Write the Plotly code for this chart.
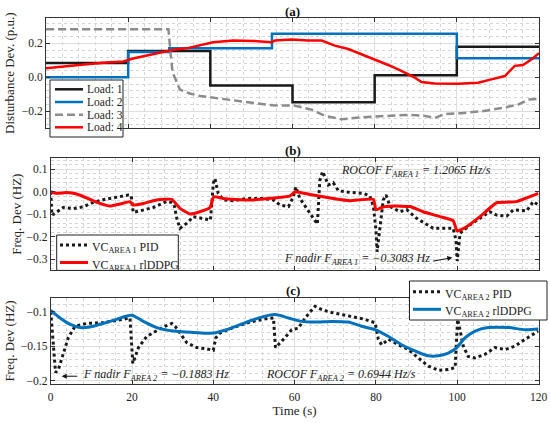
import plotly.graph_objects as go

# ---- panel (a): disturbances
load1_t = [0, 20, 40, 60, 80, 100, 120]
load1_v = [0.085, 0.155, -0.048, -0.147, 0.012, 0.18, 0.18]
load2_t = [0, 20, 30, 55, 100, 120]
load2_v = [0.0, 0.15, 0.172, 0.257, 0.113, 0.113]
load3_t = [0, 29.8, 30.3, 30.8, 31.5, 32.6, 35, 37.5, 42.3, 47.2, 52, 55.3,
           60.6, 64.6, 67.9, 71.9, 76.8, 81.7, 88.2, 92.2, 94.6, 97.1, 101.1,
           106, 110.9, 114.9, 117.4, 120]
load3_v = [0.284, 0.284, 0.15, 0.03, -0.01, -0.072, -0.095, -0.11, -0.125,
           -0.14, -0.157, -0.165, -0.167, -0.19, -0.227, -0.247, -0.235,
           -0.23, -0.221, -0.227, -0.24, -0.216, -0.211, -0.2, -0.181, -0.161,
           -0.131, -0.127]
load4_t = [0, 5, 9.9, 14.8, 18.8, 21.2, 24.5, 27.7, 31, 34.2, 37.5, 40.7,
           45.6, 50.4, 54.9, 55.7, 59.8, 63.8, 67.1, 70.3, 73.6, 76.8, 80,
           83.3, 86.5, 89.8, 91.4, 94.6, 100.3, 105.2, 108.4, 111.7, 114.1,
           116.1, 118.2, 120]
load4_v = [0.054, 0.068, 0.078, 0.088, 0.094, 0.111, 0.127, 0.143, 0.163,
           0.171, 0.187, 0.207, 0.217, 0.215, 0.207, 0.217, 0.223, 0.217,
           0.217, 0.187, 0.167, 0.137, 0.107, 0.073, 0.038, -0.002, -0.028,
           -0.036, -0.038, -0.032, -0.012, 0.008, 0.068, 0.073, 0.107, 0.143]

# ---- panel (b): area 1 frequency deviation
pid1_t = [0, 0.3, 1.1, 3.1, 5.6, 8.0, 10.5, 13.8, 17.0, 19.1, 19.8, 20.3,
          22.0, 25.2, 28.5, 29.8, 30.4, 31.0, 31.8, 33.5, 35.1, 37.5, 39.3,
          40.0, 40.4, 41.2, 42.5, 44.9, 48.2, 52.3, 54.8, 56.4, 58.5, 59.7,
          60.3, 61.3, 63.0, 64.6, 65.6, 66.2, 66.9, 68.3, 69.5, 70.8, 73.6,
          76.9, 78.5, 79.4, 80.0, 80.3, 81.0, 81.8, 82.5, 83.5, 85.9, 87.6,
          90.0, 94.1, 99.0, 99.7, 100.0, 100.7, 103.1, 105.5, 108.0, 109.7,
          112.2, 113.8, 117.1, 118.7, 120]
pid1_v = [0.0, -0.105, -0.095, -0.07, -0.075, -0.067, -0.047, -0.032,
          -0.022, -0.015, -0.018, -0.092, -0.085, -0.07, -0.044, -0.048,
          -0.06, -0.118, -0.163, -0.14, -0.111, -0.12, -0.126, 0.037, 0.059,
          -0.007, -0.037, -0.04, -0.03, -0.03, -0.037, -0.059, -0.066, -0.022,
          0.022, -0.03, -0.074, -0.118, -0.144, 0.05, 0.09, 0.03, 0.04, 0.004,
          -0.003, -0.007, -0.018, -0.066, -0.17, -0.267, -0.16, -0.037,
          -0.015, -0.066, -0.089, -0.08, -0.118, -0.163, -0.163, -0.215,
          -0.3083, -0.185, -0.148, -0.118, -0.089, -0.104, -0.108, -0.081,
          -0.085, -0.044, -0.059]
ddpg1_t = [0, 1.5, 3.9, 6.4, 9.7, 12.1, 14.6, 17.0, 19.5, 20.3, 22.8, 26.1,
           29.8, 31.8, 34.3, 36.7, 39.2, 40.1, 42.5, 49.0, 58.9, 60.1, 63.8,
           69.5, 73.6, 79.4, 80.0, 81.4, 84.3, 88.4, 91.6, 95.8, 99.0, 100.0,
           102.3, 105.6, 109.7, 114.6, 117.1, 120]
ddpg1_v = [0.0, -0.007, -0.004, -0.01, -0.034, -0.052, -0.064, -0.055,
           -0.044, -0.059, -0.052, -0.037, -0.034, -0.074, -0.099, -0.089,
           -0.07, -0.022, -0.03, -0.037, -0.018, 0.0, -0.012, -0.03, -0.04,
           -0.034, -0.081, -0.07, -0.064, -0.066, -0.089, -0.111, -0.129,
           -0.175, -0.156, -0.111, -0.049, -0.044, -0.027, -0.007]

# ---- panel (c): area 2 frequency deviation
pid2_t = [0, 1.2, 1.9, 3.1, 4.3, 6.0, 8.9, 12.9, 17.0, 19.5, 20.2, 21.6,
          23.6, 26.1, 27.7, 29.8, 30.6, 33.5, 35.9, 38.4, 40.0, 40.6, 41.6,
          44.9, 49.0, 53.1, 54.8, 55.3, 56.8, 59.3, 60.9, 62.6, 65.0, 66.7,
          69.1, 73.2, 77.3, 79.8, 80.6, 81.4, 83.1, 85.5, 88.0, 90.4, 92.9,
          95.4, 97.8, 99.5, 100.1, 100.4, 101.5, 102.7, 104.4, 106.8, 109.3,
          111.8, 114.2, 116.7, 119.2, 120]
pid2_v = [-0.1, -0.1883, -0.184, -0.16, -0.138, -0.121, -0.117, -0.116,
          -0.112, -0.109, -0.175, -0.152, -0.136, -0.128, -0.122, -0.117,
          -0.121, -0.145, -0.152, -0.154, -0.156, -0.138, -0.131, -0.123,
          -0.115, -0.11, -0.109, -0.152, -0.143, -0.126, -0.124, -0.109,
          -0.092, -0.097, -0.101, -0.106, -0.111, -0.116, -0.14, -0.148,
          -0.14, -0.148, -0.155, -0.167, -0.179, -0.185, -0.184, -0.181,
          -0.111, -0.118, -0.15, -0.165, -0.167, -0.162, -0.152, -0.155,
          -0.15, -0.14, -0.131, -0.128]
ddpg2_t = [0, 2.3, 4.7, 7.2, 9.7, 12.9, 16.2, 19.9, 22.8, 26.1, 30.2, 35.1,
           40.0, 43.3, 48.2, 52.3, 55.2, 58.5, 61.7, 65.0, 69.1, 73.2, 76.5,
           79.8, 83.1, 86.3, 89.6, 92.9, 95.4, 97.8, 99.9, 101.9, 104.4,
           107.6, 112.6, 116.7, 120]
ddpg2_v = [-0.098, -0.109, -0.118, -0.123, -0.122, -0.117, -0.111, -0.105,
           -0.114, -0.123, -0.128, -0.13, -0.131, -0.126, -0.115, -0.107,
           -0.104, -0.109, -0.114, -0.115, -0.114, -0.115, -0.121, -0.126,
           -0.136, -0.148, -0.157, -0.164, -0.164, -0.16, -0.152, -0.138,
           -0.128, -0.123, -0.123, -0.126, -0.125]

x_ticks = [0, 20, 40, 60, 80, 100, 120]

W, H = 550, 423
SERIF = "Liberation Serif, Times New Roman, serif"
BLACK = "#1a1a1a"
BLUE = "#0072BD"
RED = "#FF0000"
GRAY = "#8c8c8c"
TXT = "#222222"

styles = {
    "k": dict(color=BLACK, width=2.5),
    "b": dict(color=BLUE, width=2.5),
    "g": dict(color=GRAY, width=2.5, dash="8px,4px"),
    "r": dict(color=RED, width=2.5),
    "kd": dict(color=BLACK, width=3, dash="dot"),
    "r3": dict(color=RED, width=3),
    "b3": dict(color=BLUE, width=3),
}


def px(x):
    return x / W


def py(y):
    return 1 - y / H


fig = go.Figure()

# panel (a)
fig.add_trace(go.Scatter(x=load1_t, y=load1_v, mode="lines", line_shape="hv",
                         line=styles["k"], xaxis="x", yaxis="y"))
fig.add_trace(go.Scatter(x=load2_t, y=load2_v, mode="lines", line_shape="hv",
                         line=styles["b"], xaxis="x", yaxis="y"))
fig.add_trace(go.Scatter(x=load3_t, y=load3_v, mode="lines",
                         line=styles["g"], xaxis="x", yaxis="y"))
fig.add_trace(go.Scatter(x=load4_t, y=load4_v, mode="lines",
                         line=styles["r"], xaxis="x", yaxis="y"))

# panel (b)
fig.add_trace(go.Scatter(x=pid1_t, y=pid1_v, mode="lines",
                         line=styles["kd"], xaxis="x2", yaxis="y2"))
fig.add_trace(go.Scatter(x=ddpg1_t, y=ddpg1_v, mode="lines",
                         line=dict(styles["r3"], shape="spline", smoothing=0.4),
                         xaxis="x2", yaxis="y2"))

# panel (c)
fig.add_trace(go.Scatter(x=pid2_t, y=pid2_v, mode="lines",
                         line=styles["kd"], xaxis="x3", yaxis="y3"))
fig.add_trace(go.Scatter(x=ddpg2_t, y=ddpg2_v, mode="lines",
                         line=dict(styles["b3"], shape="spline", smoothing=0.8),
                         xaxis="x3", yaxis="y3"))


def xax(domain, labels, anchor):
    return dict(domain=domain, range=[0, 120], tickvals=x_ticks,
                showticklabels=labels, ticks="inside", ticklen=4,
                tickcolor="#333", mirror="ticks", showline=True,
                linecolor="#333", linewidth=1, anchor=anchor, automargin=False,
                ticklabeloverflow="allow", ticklabelstandoff=2,
                showgrid=True, gridcolor="#dedede", gridwidth=0.8,
                minor=dict(dtick=4, showgrid=True, gridcolor="#d6d6d6",
                           griddash="dot", gridwidth=0.6, ticks=""),
                zeroline=False, tickfont=dict(family=SERIF, size=11.5, color=TXT))


def yax(domain, rng, dtick, minor, title, anchor, fmt, standoff):
    return dict(domain=domain, range=rng, dtick=dtick, tick0=0,
                ticks="inside", ticklen=4, tickcolor="#333", mirror="ticks",
                showline=True, linecolor="#333", linewidth=1, anchor=anchor,
                automargin=False, ticklabeloverflow="allow",
                showgrid=True, gridcolor="#dedede", gridwidth=0.8,
                minor=dict(dtick=minor, showgrid=True, gridcolor="#d6d6d6",
                           griddash="dot", gridwidth=0.6, ticks=""),
                zeroline=False, tickformat=fmt,
                tickfont=dict(family=SERIF, size=11.5, color=TXT),
                title=dict(text=title, standoff=standoff,
                           font=dict(family=SERIF, size=13, color=TXT)))


xd = [px(50.7), px(538.5)]
fig.update_layout(
    width=W, height=H,
    margin=dict(l=0, r=0, t=0, b=0, autoexpand=False),
    paper_bgcolor="white", plot_bgcolor="white",
    font=dict(family=SERIF, size=12, color=TXT),
    showlegend=False,
    xaxis=xax([px(46), px(539)], False, "y"),
    yaxis=yax([py(128.25), py(18)], [-0.3, 0.35], 0.2, 0.04,
              "Disturbance Dev. (p.u.)", "x", ".1f", 4),
    xaxis2=xax(xd, False, "y2"),
    yaxis2=yax([py(270.4), py(158)], [-0.35, 0.15], 0.1, 0.02,
               "Freq. Dev (HZ)", "x2", ".1f", 1),
    xaxis3=dict(xax(xd, True, "y3"),
                title=dict(text="Time (s)", standoff=2,
                           font=dict(family=SERIF, size=13, color=TXT))),
    yaxis3=yax([py(384), py(298)], [-0.205, -0.08], 0.05, 0.01,
               "Freq. Dev (HZ)", "x3", ".2~f", 3),
)

# panel titles
for txt, yy in [("<b>(a)</b>", 11.5), ("<b>(b)</b>", 150), ("<b>(c)</b>", 290)]:
    fig.add_annotation(text=txt, xref="paper", yref="paper", x=px(292.5),
                       y=py(yy), yanchor="middle", showarrow=False,
                       borderpad=0,
                       font=dict(family=SERIF, size=13, color="#111"))


# compact MATLAB-like legends
def legend_box(x0, y0, x1, y1, entries, lx0, lx1, tx, size, ty_off=0):
    fig.add_shape(type="rect", xref="paper", yref="paper",
                  x0=px(x0), x1=px(x1), y0=py(y1), y1=py(y0),
                  line=dict(color="#222", width=1), fillcolor="white",
                  layer="above")
    for label, sty, yy in entries:
        fig.add_shape(type="line", xref="paper", yref="paper",
                      x0=px(lx0), x1=px(lx1), y0=py(yy), y1=py(yy),
                      line=styles[sty], layer="above")
        fig.add_annotation(text=label, xref="paper", yref="paper",
                           x=px(tx), y=py(yy + ty_off), xanchor="left",
                           yanchor="middle", showarrow=False,
                           font=dict(family=SERIF, size=size, color=TXT))


legend_box(50, 80, 123, 137,
           [("Load: 1", "k", 89.3), ("Load: 2", "b", 102),
            ("Load: 3", "g", 114.7), ("Load: 4", "r", 127.3)],
           55, 83, 85, 11.5)
legend_box(56.7, 235, 178.3, 270.4,
           [("VC<sub>AREA 1</sub> PID", "kd", 245),
            ("VC<sub>AREA 1</sub> rlDDPG", "r3", 262.5)],
           60, 88, 89.5, 11.8, ty_off=2.5)
legend_box(409.5, 281, 547, 320,
           [("VC<sub>AREA 2</sub> PID", "kd", 291.7),
            ("VC<sub>AREA 2</sub> rlDDPG", "b3", 309.3)],
           413, 441, 442.5, 11.8, ty_off=2.5)

note_font = dict(family=SERIF, size=12, color=TXT)
fig.add_annotation(text="<i>ROCOF F<sub>AREA 1</sub> = 1.2065 Hz/s</i>",
                   xref="x2", yref="y2", x=71, y=0.09, xanchor="left",
                   showarrow=False, font=note_font)
fig.add_annotation(text="<i>F nadir F<sub>AREA 1</sub> = \u22120.3083 Hz</i>",
                   xref="x2", yref="y2", x=57, y=-0.30, xanchor="left",
                   showarrow=False, font=note_font)
fig.add_annotation(text="", xref="x2", yref="y2", x=98.8, y=-0.293,
                   ax=93.7, ay=-0.31, axref="x2", ayref="y2",
                   showarrow=True, arrowhead=2, arrowsize=1, arrowwidth=1,
                   arrowcolor="#111")
fig.add_annotation(text="<i>F nadir F<sub>AREA 2</sub> = \u22120.1883 Hz</i>",
                   xref="x3", yref="y3", x=7.5, y=-0.192, xanchor="left",
                   showarrow=False, font=note_font)
fig.add_annotation(text="", xref="x3", yref="y3", x=2.7, y=-0.1937,
                   ax=6.9, ay=-0.1937, axref="x3", ayref="y3",
                   showarrow=True, arrowhead=2, arrowsize=1, arrowwidth=1,
                   arrowcolor="#111")
fig.add_annotation(text="<i>ROCOF F<sub>AREA 2</sub> = 0.6944 Hz/s</i>",
                   xref="x3", yref="y3", x=52.5, y=-0.192, xanchor="left",
                   showarrow=False, font=note_font)

# the page body has a default 8px margin; drop it so the figure fills the window
fig.write_html("out.html", config={"displayModeBar": False},
               post_script="document.body.style.margin='0px';")
